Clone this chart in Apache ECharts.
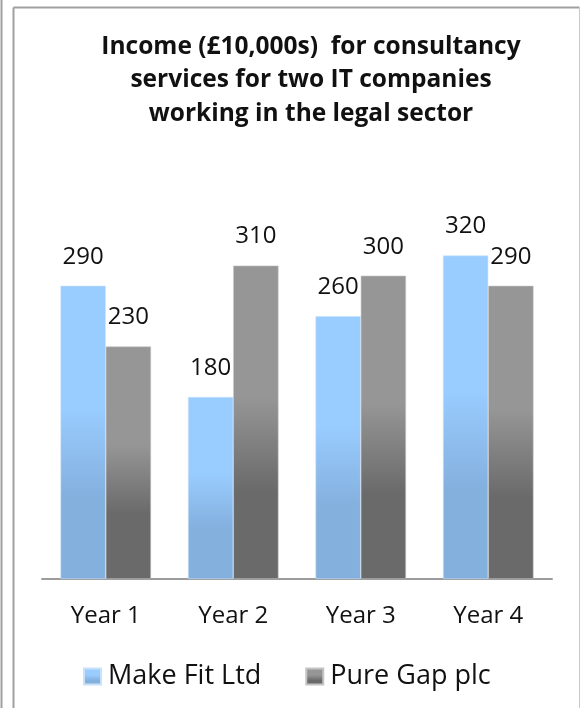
<!DOCTYPE html>
<html>
<head>
<meta charset="utf-8">
<script src="https://cdn.jsdelivr.net/npm/echarts@6/dist/echarts.min.js"></script>
<style>
html,body{margin:0;padding:0;background:#fff;}
#chart{width:581px;height:708px;}
</style>
</head>
<body>
<div id="chart"></div>
<script>
var categories = ['Year 1', 'Year 2', 'Year 3', 'Year 4'];
var makeFit = [290, 180, 260, 320];
var pureGap = [230, 310, 300, 290];
var seriesNames = ['Make Fit Ltd', 'Pure Gap plc'];
var titleText = 'Income (£10,000s)  for consultancy\nservices for two IT companies\nworking in the legal sector';

function grad(top, bottom) {
  return new echarts.graphic.LinearGradient(0, 0, 0, 1, [
    {offset: 0, color: top},
    {offset: 0.42, color: top},
    {offset: 0.72, color: bottom},
    {offset: 1, color: bottom}
  ]);
}

var chart = echarts.init(document.getElementById('chart'), null, {renderer: 'canvas'});
var fontFam = '"Open Sans", "Noto Sans", sans-serif';
chart.setOption({
  backgroundColor: '#fff',
  animation: false,
  title: {
    text: titleText,
    left: 306,
    textAlign: 'center',
    top: 25,
    textStyle: {
      fontFamily: fontFam,
      fontWeight: 'bold',
      fontSize: 24.5,
      lineHeight: 33.5,
      color: '#111'
    }
  },
  legend: {
    left: 78,
    top: 658,
    icon: 'rect',
    itemWidth: 17,
    itemHeight: 16,
    itemGap: 44,
    textStyle: {fontFamily: fontFam, fontSize: 27, color: '#111', padding: [0, 0, 0, 2]},
    data: [
      {name: seriesNames[0], itemStyle: {color: grad('#99ccff', '#84b0de')}},
      {name: seriesNames[1], itemStyle: {color: grad('#969696', '#6a6a6a')}}
    ]
  },
  grid: {left: 42, right: 29, top: 174.6, bottom: 129, containLabel: false},
  xAxis: {
    type: 'category',
    data: categories,
    axisLine: {show: true, lineStyle: {color: '#9c9c9c', width: 2}},
    axisTick: {show: false},
    axisLabel: {fontFamily: fontFam, fontSize: 24, color: '#111', margin: 25}
  },
  yAxis: {
    type: 'value',
    min: 0,
    max: 400,
    show: false,
    splitLine: {show: false}
  },
  series: [
    {
      name: seriesNames[0],
      type: 'bar',
      data: makeFit,
      barGap: '0%',
      barCategoryGap: '29%',
      itemStyle: {color: grad('#99ccff', '#84b0de'), borderColor: '#c8e2fa', borderWidth: 0.6},
      label: {show: true, position: 'top', distance: 17, fontFamily: fontFam, fontSize: 24, color: '#111'}
    },
    {
      name: seriesNames[1],
      type: 'bar',
      data: pureGap,
      barGap: '0%',
      barCategoryGap: '29%',
      itemStyle: {color: grad('#969696', '#6a6a6a'), borderColor: '#c4c4c4', borderWidth: 0.6},
      label: {show: true, position: 'top', distance: 17, fontFamily: fontFam, fontSize: 24, color: '#111'}
    }
  ],
  graphic: [
    {type: 'line', shape: {x1: 1.5, y1: 0, x2: 1.5, y2: 708}, style: {stroke: '#a0a0a0', lineWidth: 2}},
    {type: 'line', shape: {x1: 13.5, y1: 708, x2: 13.5, y2: 7.5}, style: {stroke: '#a0a0a0', lineWidth: 2}},
    {type: 'line', shape: {x1: 13.5, y1: 7.5, x2: 579.5, y2: 7.5}, style: {stroke: '#a0a0a0', lineWidth: 2}},
    {type: 'line', shape: {x1: 579.5, y1: 7.5, x2: 579.5, y2: 708}, style: {stroke: '#c8c8c8', lineWidth: 1}}
  ]
});
</script>
</body>
</html>
